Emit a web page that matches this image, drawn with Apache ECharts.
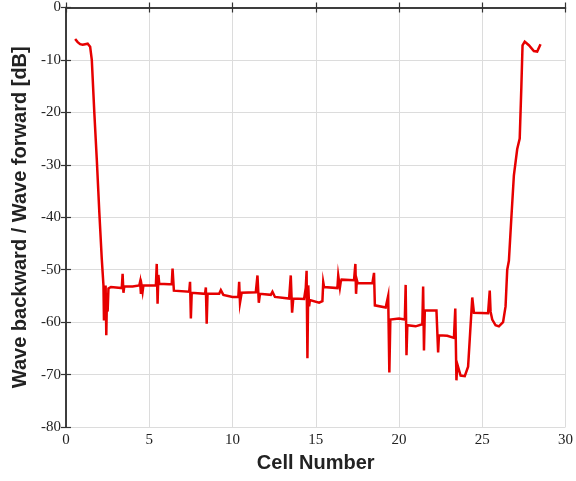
<!DOCTYPE html>
<html>
<head>
<meta charset="utf-8">
<script src="https://cdn.jsdelivr.net/npm/echarts@6/dist/echarts.min.js"></script>
<style>
  html, body { margin: 0; padding: 0; background: #fff; }
  #chart { width: 576px; height: 481px; }
</style>
</head>
<body>
<div id="chart"></div>
<script>
// cell number (x) and ratio in dB (y)
const cellNumber = [
  0.55, 0.7, 0.85, 1.0, 1.15, 1.3, 1.45, 1.55, 1.7, 1.85, 2.0, 2.15, 2.25, 2.28, 2.33, 2.38, 2.42, 2.46, 2.5,
  2.55, 2.7, 3.0, 3.35, 3.4, 3.45, 3.5, 4.0, 4.4, 4.45, 4.5, 4.55, 4.6, 4.65, 5.0, 5.4, 5.45, 5.5, 5.55, 5.6,
  6.2, 6.35, 6.4, 6.48, 6.6, 7.4, 7.45, 7.5, 7.55, 8.35, 8.4, 8.45, 8.5, 9.2, 9.3, 9.45, 10.0, 10.35, 10.4,
  10.45, 10.55, 11.4, 11.5, 11.58, 11.65, 12.3, 12.4, 12.55, 13.4, 13.5, 13.58, 13.65, 14.3, 14.4, 14.45,
  14.5, 14.55, 14.6, 14.65, 15.2, 15.4, 15.45, 15.5, 16.3, 16.35, 16.45, 16.5, 16.55, 17.3, 17.38, 17.42,
  17.47, 17.52, 18.4, 18.5, 18.55, 19.2, 19.35, 19.42, 19.48, 20.0, 20.35, 20.4, 20.45, 20.5, 21.0, 21.4,
  21.45, 21.5, 21.55, 22.25, 22.35, 22.4, 22.9, 23.3, 23.38, 23.45, 23.5, 23.7, 23.95, 24.15, 24.4, 24.5,
  25.35, 25.45, 25.5, 25.6, 25.8, 26.0, 26.25, 26.4, 26.5, 26.6, 26.75, 26.9, 27.1, 27.25, 27.35, 27.42,
  27.55, 27.8, 28.1, 28.3, 28.5
];
const ratioDb = [
  -6.0, -6.6, -7.0, -7.1, -7.0, -6.9, -7.5, -10, -20, -29, -39, -48, -53, -59.7, -56, -53, -62.5, -55, -58,
  -53.6, -53.3, -53.4, -53.5, -50.8, -54.4, -53.2, -53.2, -53.0, -52.3, -54.6, -53.2, -54.2, -53, -53.0, -53.0, -48.9, -56.5, -51, -52.7,
  -52.8, -52.8, -49.8, -54, -54, -54.2, -52.3, -59.3, -54.4, -54.6, -53.4, -60.3, -54.6, -54.6, -53.9, -54.8, -55.2, -55.2, -52.3,
  -56.3, -54.4, -54.3, -51.1, -56.3, -54.6, -54.8, -54.2, -55.2, -55.5, -51.1, -58.2, -55.5, -55.6, -53.5, -50.2,
  -66.9, -53, -57, -55.8, -56.3, -56, -52.4, -53.3, -53.5, -51.1, -53.4, -52.3, -51.9, -52, -48.9, -54.6,
  -52, -52.6, -52.6, -50.6, -56.8, -57.2, -55, -69.6, -59.5, -59.3, -59.5, -52.9, -66.3, -60.6, -60.8, -60.4,
  -53.2, -65.4, -57.8, -57.8, -65.8, -62.5, -62.6, -63, -57.4, -71.1, -68.0, -70.2, -70.3, -68.5, -55.3, -58.2,
  -58.3, -54, -58, -59.5, -60.6, -60.8, -60, -57, -50, -48.3, -40, -32, -27, -25, -15, -7.2,
  -6.5, -7.2, -8.3, -8.4, -7.0
];
const xTicks = { min: 0, max: 30, interval: 5 };
const yTicks = { min: -80, max: 0, interval: 10 };

const chart = echarts.init(document.getElementById('chart'));

const tickFont = {
  fontFamily: '"Liberation Serif", "DejaVu Serif", serif',
  fontSize: 15,
  color: '#222',
};
const titleFont = {
  fontFamily: '"Liberation Sans", Arial, sans-serif',
  fontSize: 20,
  fontWeight: 'bold',
  color: '#222',
};
const frameLine = { show: true, lineStyle: { color: '#333', width: 1.5 } };
const innerTick = { show: true, inside: true, length: 5, lineStyle: { color: '#333', width: 1.2 } };

chart.setOption({
  animation: false,
  grid: { left: 66, right: 9, top: 5, bottom: 54, containLabel: false },
  xAxis: [
    {
      type: 'value',
      min: xTicks.min,
      max: xTicks.max,
      interval: xTicks.interval,
      name: 'Cell Number',
      nameLocation: 'middle',
      nameGap: 26,
      nameTextStyle: titleFont,
      axisLine: frameLine,
      axisTick: innerTick,
      axisLabel: Object.assign({ margin: 6 }, tickFont),
      splitLine: { show: true, lineStyle: { color: '#dcdcdc', width: 1 } },
    },
    {
      type: 'value',
      position: 'top',
      min: xTicks.min,
      max: xTicks.max,
      interval: xTicks.interval,
      axisLine: frameLine,
      axisTick: innerTick,
      axisLabel: { show: false },
      splitLine: { show: false },
    },
  ],
  yAxis: [
    {
      type: 'value',
      min: yTicks.min,
      max: yTicks.max,
      interval: yTicks.interval,
      name: 'Wave backward / Wave forward [dB]',
      nameLocation: 'middle',
      nameGap: 34,
      nameTextStyle: titleFont,
      axisLine: frameLine,
      axisTick: innerTick,
      axisLabel: Object.assign({ margin: 5 }, tickFont),
      splitLine: { show: true, lineStyle: { color: '#dcdcdc', width: 1 } },
    },
    {
      type: 'value',
      position: 'right',
      min: yTicks.min,
      max: yTicks.max,
      interval: yTicks.interval,
      axisLine: frameLine,
      axisTick: innerTick,
      axisLabel: { show: false },
      splitLine: { show: false },
    },
  ],
  series: [
    {
      type: 'line',
      data: cellNumber.map((x, i) => [x, ratioDb[i]]),
      showSymbol: false,
      lineStyle: { color: '#e60000', width: 2.5, join: 'miter' },
    },
  ],
});
</script>
</body>
</html>
